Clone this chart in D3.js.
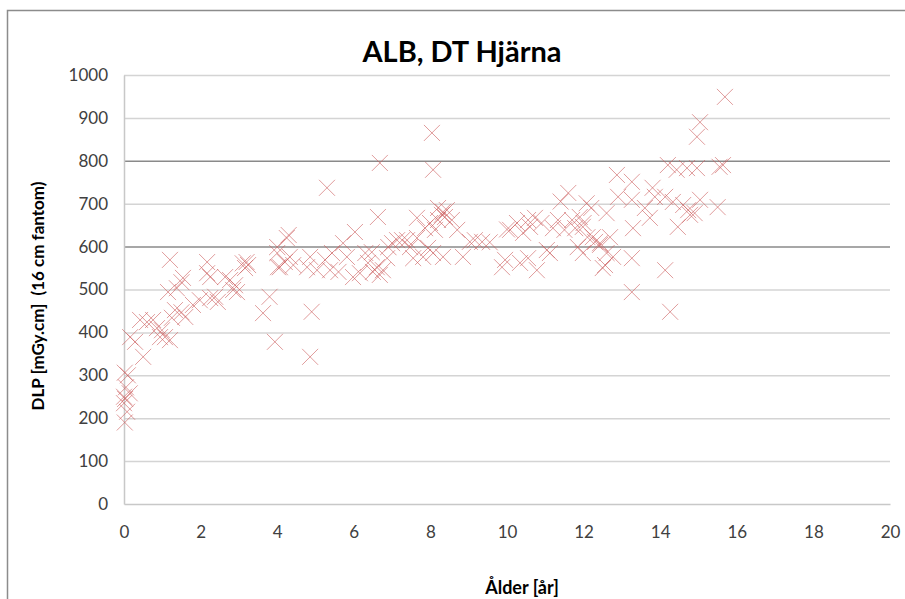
<!DOCTYPE html>
<html>
<head>
<meta charset="utf-8">
<script src="https://cdn.jsdelivr.net/npm/d3@7"></script>
<style>
  body { margin: 0; background: #fff; }
  svg { display: block; font-family: Lato, "Open Sans", sans-serif; }
  .tick text { fill: #404040; font-size: 17px; }
</style>
</head>
<body>
<svg id="chart" width="905" height="599"></svg>
<script>
// ALB, DT Hjärna: DLP per age, scatter of crosses
const AGE = [
  0.02, 0.05, 0.03, 0.0, 0.08, 0.02, 0.15, 0.1, 0.0,
  0.16, 0.29, 0.42, 0.5, 0.6, 0.76, 0.86, 0.99, 1.07, 0.94, 1.2, 1.25, 1.33, 1.5,
  1.2, 1.15, 1.38, 1.5, 1.54, 1.6,
  2.17, 2.17, 2.25, 1.98, 1.8, 2.25, 2.38, 2.45, 2.64, 2.77, 2.85, 2.95, 2.9,
  3.1, 3.2, 3.16, 3.24, 3.63, 3.8, 3.94, 4.0, 4.02,
  6.68, 5.3, 8.07, 8.04, 6.63, 7.65, 8.2, 8.33,
  4.25, 4.0, 4.33, 4.2, 4.42, 4.07, 4.86, 4.78, 4.9, 4.86, 4.3,
  5.04, 5.25, 5.38, 5.43, 5.6, 5.82, 5.98, 6.03, 5.72, 6.16, 6.3, 6.37, 6.47,
  6.5, 6.6, 6.68, 6.76, 6.87, 6.9, 7.0, 7.13, 7.26, 7.39, 7.47, 7.55, 7.81,
  7.94, 8.07, 7.65, 7.86, 7.99, 8.12, 8.2, 8.3, 8.38,
  8.43, 8.56, 8.7, 8.85, 9.03, 9.16, 9.35, 8.33, 9.55,
  9.87, 9.95, 10.08, 10.26, 10.42, 10.55, 10.6, 10.34, 10.55, 10.78, 10.73,
  11.04, 11.2, 11.33, 11.6, 11.5, 11.7, 11.78, 11.9, 11.98, 12.08, 12.1,
  12.24, 12.3, 12.43, 12.5, 12.6, 11.85, 11.98, 11.12, 10.0, 10.9,
  14.2, 14.43, 14.7, 14.96, 15.64, 12.87, 13.26, 12.9, 13.26, 13.8, 13.86,
  14.13, 14.33, 14.6, 14.73, 15.04, 15.5, 13.6, 13.73, 13.29, 14.46, 14.78,
  14.9, 12.6, 12.69, 12.43, 12.77, 13.26, 12.56, 14.13, 13.26, 14.26,
  15.69, 15.04, 14.96, 15.55, 12.2, 12.0, 11.4
];
const DLP = [
  306, 272, 245, 235, 215, 190, 258, 300, 250,
  389, 378, 429, 343, 424, 429, 410, 405, 389, 389, 382, 434, 452, 447,
  569, 494, 503, 517, 527, 436,
  564, 538, 529, 475, 464, 480, 483, 471, 529, 522, 499, 494, 510,
  561, 564, 550, 557, 445, 483, 378, 599, 552,
  795, 737, 779, 865, 669, 667, 690, 681,
  620, 585, 576, 564, 557, 552, 576, 552, 448, 343, 627,
  545, 569, 545, 585, 541, 576, 529, 634, 608, 538, 585, 562, 587,
  541, 552, 534, 545, 573, 599, 608, 615, 615, 615, 599, 573, 576,
  597, 585, 620, 643, 655, 639, 662, 674, 669,
  685, 662, 639, 576, 611, 615, 611, 576, 610,
  552, 569, 639, 655, 632, 662, 646, 562, 573, 545, 667,
  592, 643, 662, 725, 639, 662, 643, 669, 646, 701, 622,
  622, 611, 604, 550, 585, 599, 585, 585, 640, 655,
  790, 779, 783, 783, 790, 767, 751, 716, 709, 737, 716,
  716, 704, 697, 685, 709, 692, 690, 667, 643, 646, 674,
  678, 678, 622, 608, 576, 573, 557, 545, 494, 448,
  949, 890, 856, 786, 690, 655, 705
];
const X_TICKS = [0, 2, 4, 6, 8, 10, 12, 14, 16, 18, 20];
const Y_TICKS = [0, 100, 200, 300, 400, 500, 600, 700, 800, 900, 1000];
const DARK_GRID = [600, 800];

const svg = d3.select("#chart");
const m = { top: 75, right: 15, bottom: 95, left: 124 };
const innerW = 890 - m.left;
const innerH = 504 - m.top;

// outer chart border
svg.append("rect")
  .attr("x", 7.5).attr("y", 10.5)
  .attr("width", 920).attr("height", 620)
  .attr("fill", "none").attr("stroke", "#8c8c8c").attr("stroke-width", 1.5);

const g = svg.append("g").attr("transform", `translate(${m.left},${m.top})`);

const x = d3.scaleLinear().domain([0, 20]).range([0, innerW]);
const y = d3.scaleLinear().domain([0, 1000]).range([innerH, 0]);

// gridlines
g.append("g").selectAll("line")
  .data(Y_TICKS.filter((d) => d > 0))
  .join("line")
  .attr("x1", 0).attr("x2", innerW)
  .attr("y1", (d) => y(d) + 0.5).attr("y2", (d) => y(d) + 0.5)
  .attr("stroke", (d) => (DARK_GRID.includes(d) ? "#8a8a8a" : "#d4d4d4"))
  .attr("stroke-width", 1.5);

const gx = g.append("g").attr("transform", `translate(0,${innerH})`)
  .call(d3.axisBottom(x).tickValues(X_TICKS).tickSize(0).tickPadding(22));
gx.select(".domain").attr("stroke", "#c8c8c8").attr("stroke-width", 1.5);

const gy = g.append("g")
  .call(d3.axisLeft(y).tickValues(Y_TICKS).tickFormat(d3.format("d")).tickSize(0).tickPadding(16));
gy.select(".domain").attr("stroke", "#c8c8c8").attr("stroke-width", 1.5);
svg.selectAll(".tick text").attr("font-family", "Lato, sans-serif");

// crosses
const s = 8;
const pts = AGE.map((a, i) => ({ age: a, dlp: DLP[i] }));
g.append("g").selectAll("path")
  .data(pts)
  .join("path")
  .attr("d", (d) => {
    const cx = x(d.age), cy = y(d.dlp);
    return `M${cx - s},${cy - s}L${cx + s},${cy + s}M${cx - s},${cy + s}L${cx + s},${cy - s}`;
  })
  .attr("fill", "none")
  .attr("stroke", "#cc5a5a")
  .attr("stroke-opacity", 0.6)
  .attr("stroke-width", 1);

// titles
svg.append("text")
  .attr("x", 462).attr("y", 62)
  .attr("text-anchor", "middle")
  .attr("font-size", 29).attr("font-weight", "bold").attr("fill", "#000")
  .text("ALB, DT Hjärna");

svg.append("text")
  .attr("transform", "translate(44,296) rotate(-90)")
  .attr("text-anchor", "middle")
  .attr("font-size", 17).attr("font-weight", "bold").attr("fill", "#000")
  .attr("xml:space", "preserve")
  .text("DLP [mGy.cm]  (16 cm fantom)");

svg.append("text")
  .attr("x", 522).attr("y", 594)
  .attr("text-anchor", "middle")
  .attr("font-size", 18).attr("font-weight", "bold").attr("fill", "#000")
  .text("Ålder [år]");
</script>
</body>
</html>
